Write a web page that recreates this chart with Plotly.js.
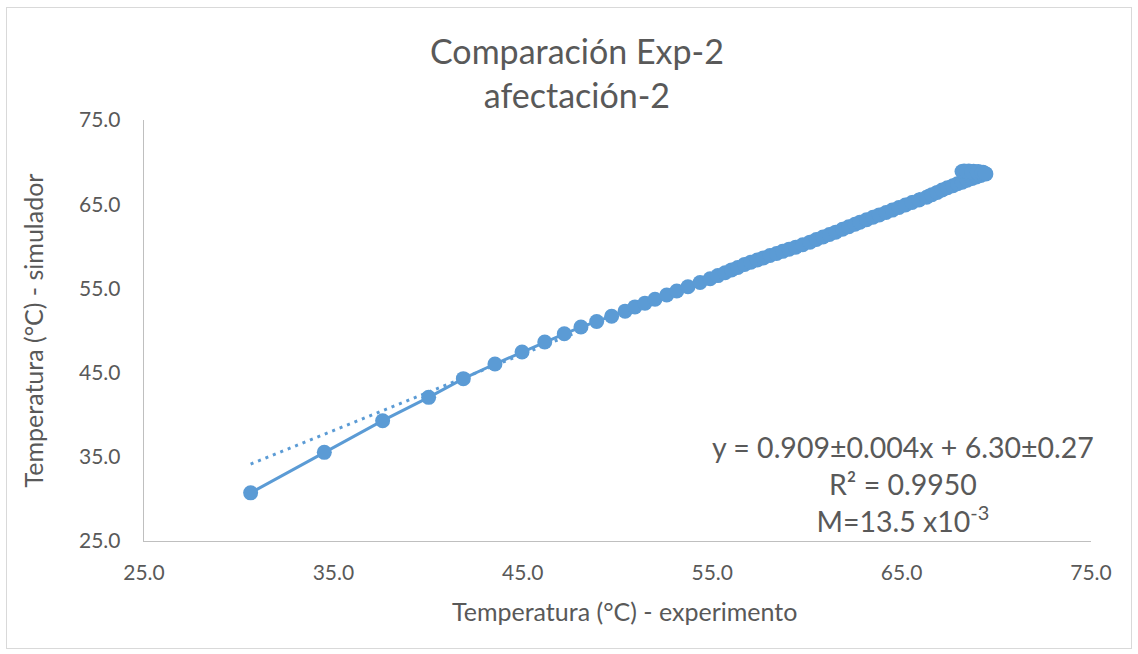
<!DOCTYPE html>
<html>
<head>
<meta charset="utf-8">
<script src="https://cdn.plot.ly/plotly-3.0.1.min.js"></script>
<style>
  html, body { margin: 0; padding: 0; background: #ffffff; }
  #wrap { position: relative; width: 1138px; height: 654px; }
  #chart { position: absolute; left: 0; top: 0; width: 1138px; height: 654px; }
  #frame { position: absolute; left: 6px; top: 7px; width: 1124px; height: 640px; border: 1px solid #D9D9D9; pointer-events: none; }
</style>
</head>
<body>
<div id="wrap">
  <div id="chart"></div>
  <div id="frame"></div>
</div>
<script>
// Experimental temperature (°C) - x values
const expTemp = [
  30.63, 34.52, 37.60, 40.03, 41.86, 43.53, 44.96, 46.16, 47.19, 48.07,
  48.90, 49.69, 50.40, 50.92, 51.45, 51.98, 52.60, 53.13, 53.72, 54.36,
  54.89, 55.30, 55.68, 56.02, 56.35, 56.71, 57.04, 57.38, 57.70, 58.05,
  58.40, 58.72, 59.06, 59.41, 59.78, 60.16, 60.50, 60.85, 61.19, 61.52,
  61.88, 62.21, 62.54, 62.80, 63.15, 63.49, 63.82, 64.18, 64.51, 64.86,
  65.20, 65.55, 65.92, 66.32, 66.60, 66.88, 67.14, 67.42, 67.71, 67.95,
  68.20, 68.46, 68.72, 68.95, 69.18, 69.45,
  69.30, 69.05, 68.80, 68.55, 68.30, 68.19, 68.42, 68.70, 69.00, 69.25, 69.40
];
// Simulated temperature (°C) - y values
const simTemp = [
  30.72, 35.53, 39.29, 42.06, 44.28, 46.02, 47.44, 48.63, 49.61, 50.41,
  51.07, 51.70, 52.30, 52.80, 53.25, 53.72, 54.22, 54.70, 55.20, 55.70,
  56.15, 56.52, 56.85, 57.20, 57.48, 57.85, 58.12, 58.38, 58.62, 58.90,
  59.15, 59.40, 59.66, 59.90, 60.18, 60.49, 60.80, 61.10, 61.40, 61.68,
  62.02, 62.32, 62.62, 62.86, 63.15, 63.45, 63.73, 64.02, 64.30, 64.60,
  64.90, 65.20, 65.50, 65.83, 66.12, 66.40, 66.68, 66.95, 67.20, 67.42,
  67.62, 67.84, 68.05, 68.24, 68.42, 68.60,
  68.80, 68.88, 68.92, 68.95, 68.93, 68.88, 68.85, 68.82, 68.78, 68.72, 68.66
];
// Linear trend (from the chart's equation)
const trendSlope = 0.909;
const trendIntercept = 6.30;

const axisTicks = [25, 35, 45, 55, 65, 75];
const tickLabels = ['25.0', '35.0', '45.0', '55.0', '65.0', '75.0'];

const titleText = 'Comparación Exp-2<br>afectación-2';
const xTitle = 'Temperatura (°C) - experimento';
const yTitle = 'Temperatura (°C) - simulador';
const eqText = 'y = 0.909±0.004x + 6.30±0.27<br>R² = 0.9950<br>M=13.5 x10<sup>-3</sup>';

const blue = '#5B9BD5';
const grey = '#595959';
const fontFam = 'Lato, "Open Sans", sans-serif';

const xMin = Math.min(...expTemp);
const xMax = Math.max(...expTemp);
const trendX = [xMin, xMax];
const trendY = trendX.map(v => trendSlope * v + trendIntercept);

const traces = [
  {
    x: trendX, y: trendY, type: 'scatter', mode: 'lines',
    line: { color: blue, width: 3, dash: '3px,5px' },
    hoverinfo: 'skip', showlegend: false
  },
  {
    x: expTemp, y: simTemp, type: 'scatter', mode: 'lines+markers',
    line: { color: blue, width: 3 },
    marker: { color: blue, size: 15 },
    showlegend: false
  }
];

const layout = {
  width: 1138, height: 654,
  margin: { l: 144, r: 47, t: 120, b: 112.5 },
  paper_bgcolor: '#ffffff', plot_bgcolor: '#ffffff',
  font: { family: fontFam, color: grey },
  xaxis: {
    range: [25, 75], tickvals: axisTicks, ticktext: tickLabels,
    showgrid: false, zeroline: false,
    showline: true, linecolor: '#BFBFBF', linewidth: 1.3,
    ticks: '', ticklabelstandoff: 12,
    tickfont: { family: fontFam, size: 21, color: grey }
  },
  yaxis: {
    range: [25, 75], tickvals: axisTicks, ticktext: tickLabels,
    showgrid: false, zeroline: false,
    showline: true, linecolor: '#BFBFBF', linewidth: 1.3,
    ticks: '', ticklabelstandoff: 18,
    tickfont: { family: fontFam, size: 21, color: grey },
    title: { text: yTitle, font: { family: fontFam, size: 25, color: grey }, standoff: 28 }
  },
  annotations: [
    {
      x: 0.457, y: 1.112, xref: 'paper', yref: 'paper',
      text: titleText, showarrow: false,
      xanchor: 'center', yanchor: 'middle', align: 'center',
      font: { family: fontFam, size: 34, color: grey }
    },
    {
      x: 0.507, y: -0.167, xref: 'paper', yref: 'paper',
      text: xTitle, showarrow: false,
      xanchor: 'center', yanchor: 'middle', align: 'center',
      font: { family: fontFam, size: 25, color: grey }
    },
    {
      x: 65.1, y: 31.8, xref: 'x', yref: 'y',
      text: eqText, showarrow: false,
      xanchor: 'center', yanchor: 'middle', align: 'center',
      font: { family: fontFam, size: 28.5, color: grey }
    }
  ]
};

Plotly.newPlot('chart', traces, layout, { staticPlot: true, displayModeBar: false });
</script>
</body>
</html>
